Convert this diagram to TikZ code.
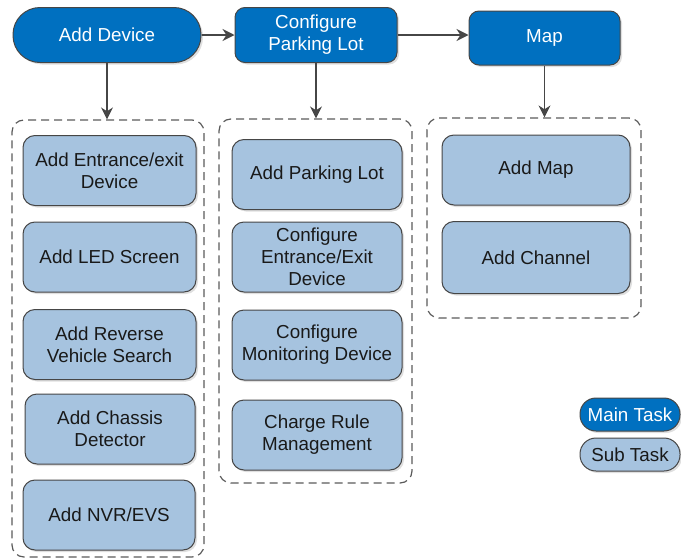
\documentclass[tikz,border=0pt]{standalone}
\usepackage{fontspec}
\setmainfont{Liberation Sans}
\usetikzlibrary{arrows.meta, shadows}
\definecolor{mainblue}{RGB}{0,112,192}
\definecolor{subblue}{RGB}{166,195,223}
\definecolor{edgegray}{RGB}{70,70,70}
\definecolor{dashgray}{RGB}{90,90,90}
\tikzstyle{mainstep} = [rectangle, rounded corners=10pt, minimum width=162pt, minimum height=55pt, text centered, align=center, draw=edgegray, line width=1pt, fill=mainblue, text=white, drop shadow={opacity=0.25, shadow xshift=2pt, shadow yshift=-2pt}]
\tikzstyle{substep} = [rectangle, rounded corners=12pt, minimum width=170pt, minimum height=70pt, text centered, align=center, draw=edgegray, line width=1pt, fill=subblue, text=black!90, drop shadow={opacity=0.25, shadow xshift=2pt, shadow yshift=-2pt}]
\tikzstyle{groupbox} = [rectangle, rounded corners=12pt, draw=dashgray, line width=1.2pt, dash pattern=on 8pt off 5pt, inner sep=0pt]
\tikzstyle{arrow} = [-{Stealth[length=12pt,width=12pt]}, draw=edgegray, line width=1.2pt]

\begin{document}
\begin{tikzpicture}[x=1pt, y=-1pt, every node/.style={font=\fontsize{18.8}{22}\selectfont}]
	\useasboundingbox (0,0) rectangle (681,560);
	% main tasks
	\node (AD) [mainstep, rounded corners=27pt, minimum width=188pt] at (107,35) {Add Device};
	\node (CP) [mainstep] at (316,35) {Configure\\Parking Lot};
	\node (MP) [mainstep, minimum width=151pt, minimum height=54pt] at (544.5,38) {Map};
	% dashed groups
	\node (G1) [groupbox, minimum width=192pt, minimum height=437pt] at (108,338.5) {};
	\node (G2) [groupbox, minimum width=193pt, minimum height=364pt] at (315.5,301) {};
	\node (G3) [groupbox, minimum width=214pt, minimum height=200pt] at (534,218) {};
	% sub tasks
	\node (AE) [substep, minimum width=173pt] at (109.5,170.5) {Add Entrance/exit\\Device};
	\node (AL) [substep, minimum width=173pt] at (109.5,257) {Add LED Screen};
	\node (AR) [substep, minimum width=173pt] at (109.5,344.5) {Add Reverse\\Vehicle Search};
	\node (AC) [substep] at (110,429) {Add Chassis\\Detector};
	\node (AN) [substep, minimum width=172pt] at (109,515) {Add NVR/EVS};
	\node (PL) [substep] at (317,174.5) {Add Parking Lot};
	\node (CE) [substep] at (317,257) {Configure\\Entrance/Exit\\Device};
	\node (CM) [substep] at (317,345) {Configure\\Monitoring Device};
	\node (CR) [substep] at (317,435) {Charge Rule\\Management};
	\node (AM) [substep, minimum width=188pt] at (536,170) {Add Map};
	\node (AH) [substep, minimum width=188pt, minimum height=72pt] at (536,257.5) {Add Channel};
	% legend
	\node (LM) [mainstep, rounded corners=16pt, minimum width=100pt, minimum height=33pt, inner sep=0pt] at (630,414.5) {Main Task};
	\node (LS) [substep, rounded corners=16pt, minimum width=100pt, minimum height=33pt, inner sep=0pt] at (630,454.5) {Sub Task};
	% connectors
	\draw [arrow] (AD) -- (CP);
	\draw [arrow] (CP.east) -- (CP.east -| MP.west);
	\draw [arrow] (AD.south) -- (AD.south |- G1.north);
	\draw [arrow] (CP.south) -- (CP.south |- G2.north);
	\draw [arrow] (MP.south) -- (MP.south |- G3.north);
\end{tikzpicture}
\end{document}
